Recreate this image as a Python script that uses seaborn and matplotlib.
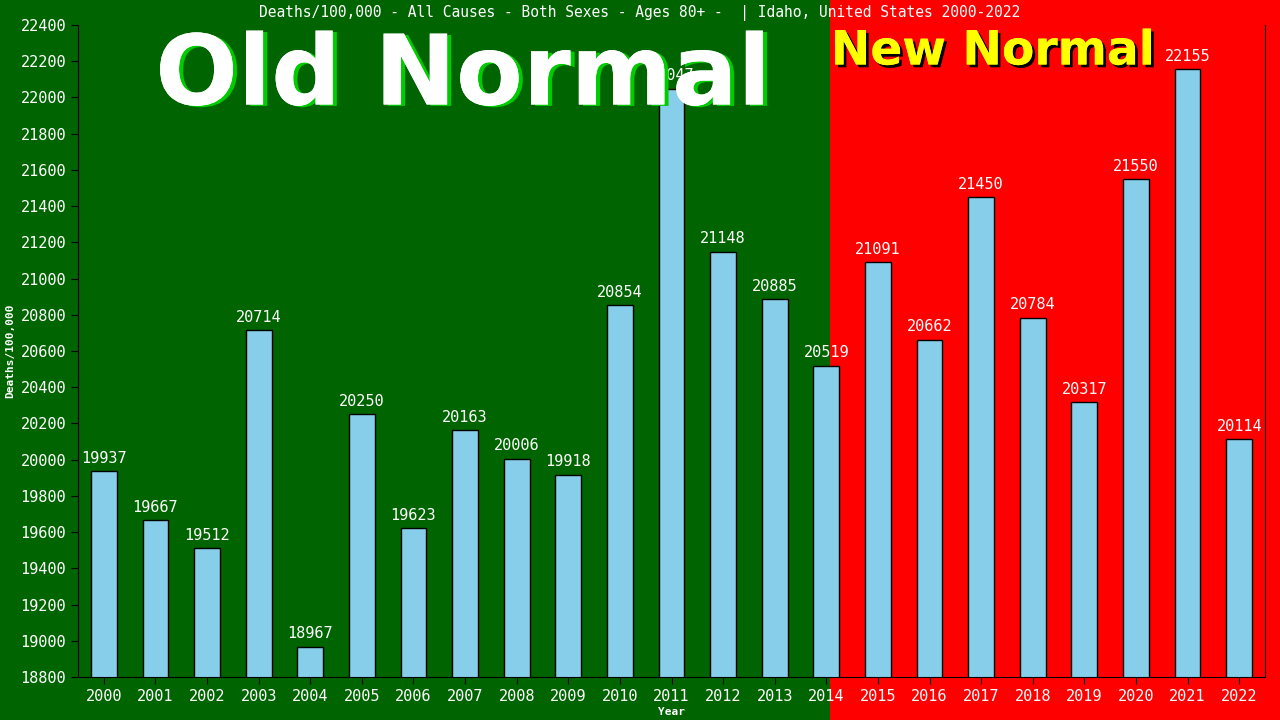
import seaborn as sns
import matplotlib.pyplot as plt
import matplotlib.patheffects as pe
from matplotlib.patches import Rectangle
import pandas as pd

years = list(range(2000, 2023))
deaths = [19937, 19667, 19512, 20714, 18967, 20250, 19623, 20163, 20006, 19918,
          20854, 22047, 21148, 20885, 20519, 21091, 20662, 21450, 20784, 20317,
          21550, 22155, 20114]
yticks = list(range(18800, 22401, 200))

df = pd.DataFrame({"Year": [str(y) for y in years], "Deaths": deaths})

sns.set_style("ticks")
plt.rcParams['font.family'] = ['DejaVu Sans Mono', 'DejaVu Sans']

fig = plt.figure(figsize=(12.8, 7.2), dpi=100)
fig.patch.set_facecolor("#006400")
# red "new normal" half of the background
fig.patches.append(Rectangle((830 / 1280, 0), 1 - 830 / 1280, 1, transform=fig.transFigure,
                             facecolor="#ff0000", edgecolor="none", zorder=-1))

ax = fig.add_axes([78 / 1280, 43 / 720, (1265 - 78) / 1280, (677 - 25) / 720])
ax.patch.set_alpha(0)

sns.barplot(data=df, x="Year", y="Deaths", color="#87ceeb", saturation=1,
            width=0.5, edgecolor="black", linewidth=1, ax=ax)

ax.set_ylim(18800, 22400)
ax.set_xlim(-0.5, len(years) - 0.5)
ax.set_yticks(yticks)
ax.set_yticklabels([str(t) for t in yticks])

for i, v in enumerate(deaths):
    ax.text(i, v + 30, str(v), ha="center", va="bottom", color="white",
            fontsize=11, zorder=3)

ax.tick_params(colors="black", labelcolor="white", labelsize=11, length=5)
for s in ["left", "bottom", "right"]:
    ax.spines[s].set_color("black")
ax.spines["top"].set_visible(False)

ax.set_xlabel("Year", color="white", fontsize=8, fontweight="bold", labelpad=2)
ax.set_ylabel("Deaths/100,000", color="white", fontsize=8, fontweight="bold", labelpad=4)

fig.text(640 / 1280, 1 - 13 / 720,
         "Deaths/100,000 - All Causes - Both Sexes - Ages 80+ -  | Idaho, United States 2000-2022",
         ha="center", va="center", color="white", fontsize=10.5)

fig.text(463 / 1280, 1 - 78 / 720, "Old Normal", ha="center", va="center",
         color="white", fontsize=70, fontweight="bold", family="DejaVu Sans", zorder=5,
         path_effects=[pe.withSimplePatchShadow(offset=(3, -1), shadow_rgbFace="#00cc00", alpha=1),
                       pe.Normal()])
fig.text(993 / 1280, 1 - 52 / 720, "New Normal", ha="center", va="center",
         color="#ffff00", fontsize=34, fontweight="bold", family="DejaVu Sans", zorder=5,
         path_effects=[pe.withSimplePatchShadow(offset=(2, -2), shadow_rgbFace="black", alpha=1),
                       pe.Normal()])

fig.savefig("out.png", dpi=100, facecolor=fig.get_facecolor())
